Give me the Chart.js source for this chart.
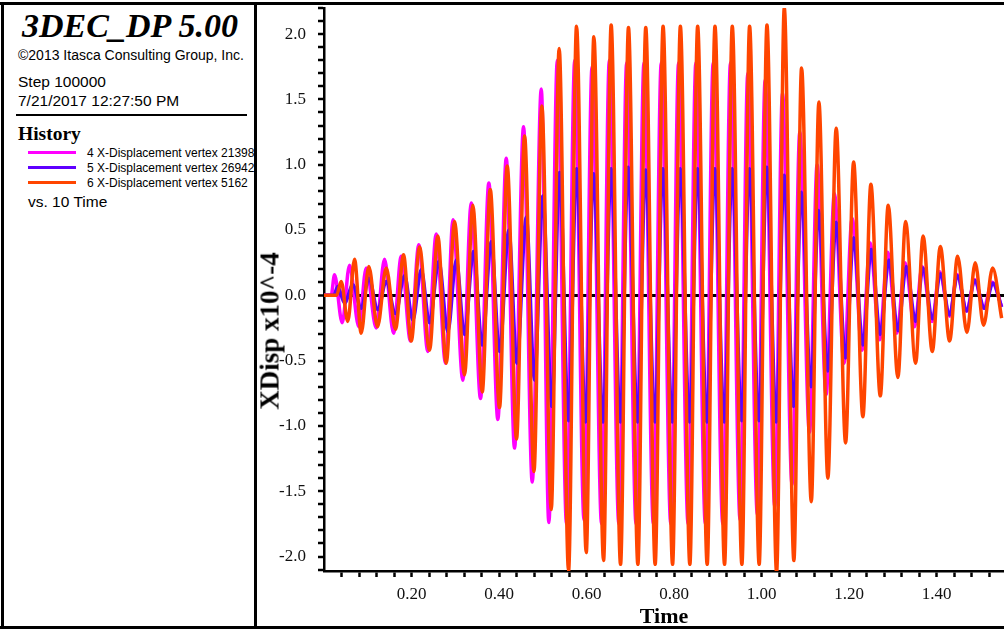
<!DOCTYPE html>
<html>
<head>
<meta charset="utf-8">
<title>3DEC_DP history</title>
<script src="https://cdn.jsdelivr.net/npm/chart.js@4.4.1/dist/chart.umd.min.js"></script>
<style>
  html, body { margin: 0; padding: 0; background: #fff; }
  #page { position: relative; width: 1004px; height: 631px; overflow: hidden; background: #fff; }
  .bar { position: absolute; background: #000; }
  .txt { position: absolute; white-space: nowrap; line-height: 1; color: #000; }
  .sans { font-family: "Liberation Sans", Arial, sans-serif; }
  .serif { font-family: "Liberation Serif", "Times New Roman", serif; }
  #panel { position: absolute; left: 0; top: 0; width: 254px; height: 631px; overflow: hidden; }
  #plot { position: absolute; left: 256px; top: 0; }
  #ytitle { position: absolute; left: 269.5px; top: 331px; transform: translate(-50%, -50%) rotate(-90deg);
            font: bold 27px "Liberation Serif", serif; line-height: 1; white-space: nowrap; color: #000; }
</style>
</head>
<body>
<div id="page">
  <canvas id="plot" width="748" height="631"></canvas>
  <div id="ytitle">XDisp x10^-4</div>

  <div id="panel">
    <div class="txt serif" style="left:22px; top:9px; font-size:34px; font-weight:bold; font-style:italic;">3DEC_DP 5.00</div>
    <div class="txt sans" style="left:18px; top:47.5px; font-size:14px;">©2013 Itasca Consulting Group, Inc.</div>
    <div class="txt sans" style="left:18px; top:74px; font-size:15.5px;">Step 100000</div>
    <div class="txt sans" style="left:18px; top:93px; font-size:15.5px;">7/21/2017 12:27:50 PM</div>
    <div class="bar" style="left:16px; top:113.5px; width:231px; height:2.5px;"></div>
    <div class="txt serif" style="left:18px; top:124px; font-size:19.5px; font-weight:bold;">History</div>
    <div class="bar" style="left:28px; top:150.5px; width:48px; height:3px; background:#ff00ff;"></div>
    <div class="bar" style="left:28px; top:165.5px; width:48px; height:3px; background:#5f00ff;"></div>
    <div class="bar" style="left:28px; top:181px; width:48px; height:3px; background:#ff4500;"></div>
    <div class="txt sans" style="left:87px; top:146.5px; font-size:12px;">4 X-Displacement vertex 21398</div>
    <div class="txt sans" style="left:87px; top:161.5px; font-size:12px;">5 X-Displacement vertex 26942</div>
    <div class="txt sans" style="left:87px; top:176.5px; font-size:12px;">6 X-Displacement vertex 5162</div>
    <div class="txt sans" style="left:28px; top:193.5px; font-size:15.5px;">vs. 10 Time</div>
  </div>

  <div class="bar" style="left:0; top:2px; width:1004px; height:3px;"></div>
  <div class="bar" style="left:1px; top:2px; width:3px; height:627px;"></div>
  <div class="bar" style="left:0; top:626px; width:1004px; height:3px;"></div>
  <div class="bar" style="left:254px; top:2px; width:2.5px; height:627px;"></div>
</div>

<script>
// history 4: X-Displacement vertex 21398 (magenta)
const time21398 = [0, 0.0165, 0.0240, 0.0416, 0.0583, 0.0795, 0.0965, 0.1193, 0.1383, 0.1589, 0.1765, 0.1977,
  0.2167, 0.2373, 0.2565, 0.2777, 0.2949, 0.3173, 0.3365, 0.3577, 0.3767, 0.3973, 0.4165, 0.4354, 0.4560, 0.4759,
  0.4965, 0.5138, 0.5333, 0.5543, 0.5730, 0.5943, 0.6126, 0.6343, 0.6521, 0.6738, 0.6917, 0.7131, 0.7312, 0.7527,
  0.7707, 0.7925, 0.8103, 0.8320, 0.8498, 0.8715, 0.8894, 0.9113, 0.9289, 0.9509, 0.9685, 0.9904, 1.0082, 1.0302,
  1.0478, 1.0697, 1.0873, 1.1095, 1.1269, 1.1474, 1.1664, 1.1886, 1.2069, 1.2297, 1.2480, 1.2697, 1.2880, 1.3093,
  1.3280, 1.3497, 1.3669, 1.3897, 1.4069, 1.4297, 1.4469, 1.4686, 1.4869, 1.5074, 1.5269, 1.5486];
const disp21398 = [0, 0, 0.157, -0.21, 0.23, -0.24, 0.21, -0.25, 0.277, -0.29, 0.30, -0.35,
  0.387, -0.43, 0.47, -0.52, 0.578, -0.65, 0.706, -0.79, 0.86, -0.95, 1.05, -1.17, 1.29, -1.43,
  1.58, -1.74, 1.80, -1.75, 1.80, -1.72, 1.75, -1.75, 1.80, -1.75, 1.78, -1.75, 1.78, -1.75,
  1.78, -1.75, 1.78, -1.75, 1.78, -1.75, 1.78, -1.75, 1.78, -1.72, 1.70, -1.68, 1.65, -1.62,
  1.55, -1.45, 1.25, -1.05, 1.00, -0.76, 0.78, -0.52, 0.59, -0.42, 0.40, -0.34, 0.33, -0.29,
  0.25, -0.24, 0.22, -0.20, 0.18, -0.16, 0.16, -0.12, 0.12, -0.10, 0.10, -0.086];

// history 5: X-Displacement vertex 26942 (blue)
const time26942 = [0, 0.0220, 0.0315, 0.0469, 0.0658, 0.0850, 0.1024, 0.1230, 0.1422, 0.1634, 0.1840, 0.2030,
  0.2222, 0.2411, 0.2624, 0.2830, 0.3022, 0.3211, 0.3417, 0.3616, 0.3822, 0.4011, 0.4224, 0.4407, 0.4622, 0.4811,
  0.5001, 0.5207, 0.5383, 0.5589, 0.5771, 0.5977, 0.6160, 0.6377, 0.6560, 0.6773, 0.6949, 0.7166, 0.7349, 0.7561,
  0.7744, 0.7959, 0.8139, 0.8354, 0.8535, 0.8750, 0.8931, 0.9147, 0.9326, 0.9543, 0.9721, 0.9938, 1.0119, 1.0336,
  1.0514, 1.0731, 1.0910, 1.1127, 1.1303, 1.1513, 1.1703, 1.1920, 1.2103, 1.2315, 1.2507, 1.2713, 1.2910, 1.3115,
  1.3307, 1.3520, 1.3687, 1.3909, 1.4085, 1.4297, 1.4475, 1.4693, 1.4869, 1.5097, 1.5287, 1.5486];
const disp26942 = [0, 0, 0.067, -0.06, 0.08, -0.10, 0.13, -0.11, 0.106, -0.14, 0.15, -0.19,
  0.195, -0.21, 0.26, -0.28, 0.27, -0.30, 0.335, -0.38, 0.41, -0.43, 0.50, -0.52, 0.60, -0.65,
  0.76, -0.85, 0.94, -0.96, 0.97, -0.97, 0.93, -0.97, 0.97, -0.97, 0.98, -0.97, 0.96, -0.97,
  0.97, -0.97, 0.97, -0.97, 0.97, -0.97, 0.97, -0.97, 0.97, -0.96, 0.97, -0.96, 0.98, -0.97,
  0.92, -0.85, 0.79, -0.70, 0.65, -0.58, 0.56, -0.48, 0.44, -0.38, 0.35, -0.30, 0.27, -0.27,
  0.22, -0.20, 0.21, -0.18, 0.165, -0.15, 0.15, -0.12, 0.113, -0.10, 0.093, -0.09];

// history 6: X-Displacement vertex 5162 (orange)
const time5162 = [0, 0.0286, 0.0393, 0.0544, 0.0697, 0.0850, 0.1024, 0.1223, 0.1422, 0.1634, 0.1817, 0.1993,
  0.2183, 0.2411, 0.2601, 0.2793, 0.2983, 0.3211, 0.3401, 0.3616, 0.3799, 0.4011, 0.4187, 0.4400, 0.4583, 0.4798,
  0.4978, 0.5193, 0.5374, 0.5589, 0.5771, 0.5993, 0.6167, 0.6389, 0.6562, 0.6777, 0.6958, 0.7173, 0.7353, 0.7568,
  0.7749, 0.7966, 0.8144, 0.8361, 0.8539, 0.8757, 0.8935, 0.9154, 0.9330, 0.9550, 0.9726, 0.9945, 1.0123, 1.0343,
  1.0519, 1.0738, 1.0914, 1.1136, 1.1310, 1.1515, 1.1705, 1.1920, 1.2103, 1.2315, 1.2498, 1.2713, 1.2894, 1.3115,
  1.3291, 1.3520, 1.3691, 1.3901, 1.4085, 1.4297, 1.4480, 1.4693, 1.4882, 1.5074, 1.5280, 1.5486];
const disp5162 = [0, 0, 0.106, -0.20, 0.277, -0.29, 0.22, -0.24, 0.21, -0.26, 0.31, -0.35,
  0.37, -0.42, 0.455, -0.52, 0.565, -0.61, 0.69, -0.74, 0.81, -0.86, 0.99, -1.10, 1.22, -1.35,
  1.45, -1.64, 1.89, -2.11, 2.06, -1.97, 1.98, -2.03, 2.07, -2.06, 2.05, -2.06, 2.05, -2.06,
  2.06, -2.06, 2.06, -2.06, 2.06, -2.06, 2.06, -2.06, 2.06, -2.06, 2.06, -2.06, 2.07, -2.12,
  2.20, -2.03, 1.74, -1.58, 1.48, -1.40, 1.28, -1.13, 1.02, -0.93, 0.85, -0.77, 0.69, -0.63,
  0.565, -0.52, 0.455, -0.43, 0.374, -0.35, 0.30, -0.285, 0.25, -0.23, 0.21, -0.175];

// axes: ranges and tick positions (labels shown every 0.2 s and every 0.5 units)
const timeRange = [0, 1.554];
const dispRange = [-2.111, 2.2];
const dispTicks = [-2.1, -2.0, -1.9, -1.8, -1.7, -1.6, -1.5, -1.4, -1.3, -1.2, -1.1, -1.0, -0.9, -0.8, -0.7, -0.6,
  -0.5, -0.4, -0.3, -0.2, -0.1, 0, 0.1, 0.2, 0.3, 0.4, 0.5, 0.6, 0.7, 0.8, 0.9, 1.0, 1.1, 1.2, 1.3, 1.4, 1.5,
  1.6, 1.7, 1.8, 1.9, 2.0, 2.1, 2.2];

const toPoints = (t, v) => t.map((x, i) => ({ x: x, y: v[i] }));
const isMultiple = (v, step) => Math.abs(v / step - Math.round(v / step)) < 1e-6;
const serif = '"Liberation Serif", "Times New Roman", serif';

const plotContext = document.getElementById('plot').getContext('2d');
const historyChart = new Chart(plotContext, {
    type: 'line',
    data: {
        datasets: [
            { label: '4 X-Displacement vertex 21398', data: toPoints(time21398, disp21398), borderColor: '#ff00ff', order: 3 },
            { label: '5 X-Displacement vertex 26942', data: toPoints(time26942, disp26942), borderColor: '#5f00ff', order: 2 },
            { label: '6 X-Displacement vertex 5162', data: toPoints(time5162, disp5162), borderColor: '#ff4500', order: 1 }
        ]
    },
    options: {
        responsive: false, animation: false, devicePixelRatio: 1,
        layout: { padding: { top: 8, left: 0, right: 0, bottom: 0 } },
        elements: {
            line: { borderWidth: 3.5, cubicInterpolationMode: 'monotone', fill: false },
            point: { radius: 0, hoverRadius: 0 }
        },
        plugins: { legend: { display: false }, tooltip: { enabled: false } },
        scales: {
            x: {
                type: 'linear', position: 'bottom', min: timeRange[0], max: timeRange[1], bounds: 'data',
                border: { display: true, color: '#000', width: 2.5 },
                grid: { drawOnChartArea: false, tickLength: 6, tickWidth: 2.5,
                        tickColor: ctx => (ctx.tick && ctx.tick.value === 0) ? 'rgba(0,0,0,0)' : '#000' },
                ticks: { stepSize: 0.04, includeBounds: false, autoSkip: false, maxRotation: 0, minRotation: 0,
                         padding: 7, color: '#111', font: { family: serif, size: 17 },
                         callback: v => (v > 0 && isMultiple(v, 0.2)) ? v.toFixed(2) : '' },
                title: { display: true, text: 'Time', color: '#000', font: { family: serif, size: 22, weight: 'bold' },
                         padding: { top: 0, bottom: 0 } },
                afterFit: s => { s.height = 60; s.paddingLeft = 0; s.paddingRight = 0; }
            },
            y: {
                type: 'linear', position: 'left', min: dispRange[0], max: dispRange[1], bounds: 'data',
                border: { display: true, color: '#000', width: 2.5 },
                grid: { drawOnChartArea: true, tickLength: 6, tickWidth: 2.5, tickColor: '#000',
                        color: ctx => (ctx.tick && ctx.tick.value === 0) ? '#000' : 'rgba(0,0,0,0)',
                        lineWidth: ctx => (ctx.tick && ctx.tick.value === 0) ? 3 : 0 },
                ticks: { autoSkip: false, padding: 12, color: '#111', font: { family: serif, size: 17 },
                         callback: v => isMultiple(v, 0.5) ? v.toFixed(1) : '' },
                afterBuildTicks: s => { s.ticks = dispTicks.map(v => ({ value: v })); },
                afterFit: s => { s.width = 68; s.paddingTop = 0; s.paddingBottom = 0; }
            }
        }
    }
});
</script>
</body>
</html>
